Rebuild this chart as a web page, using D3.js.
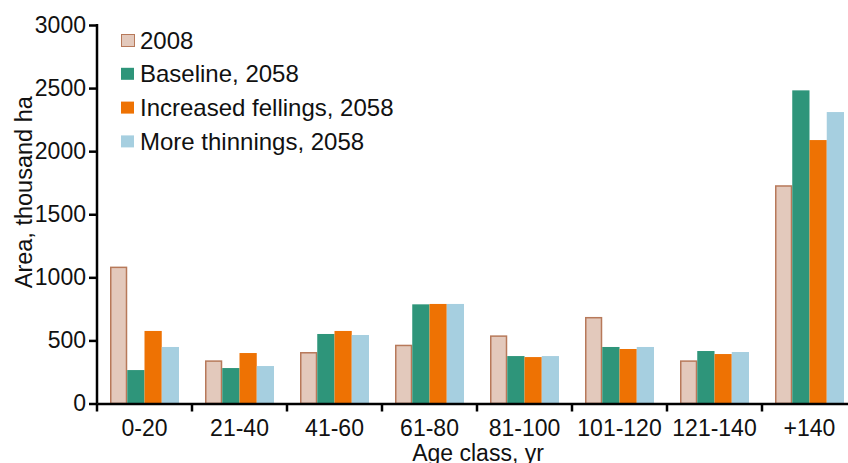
<!DOCTYPE html>
<html>
<head>
<meta charset="utf-8">
<script src="https://cdn.jsdelivr.net/npm/d3@7"></script>
<style>
  body { margin: 0; background: #fff; }
  svg { display: block; font-family: "Liberation Sans", Arial, sans-serif; }
</style>
</head>
<body>
<svg id="chart"></svg>
<script>
const width = 848, height = 463;
const margin = { top: 25, right: -9, bottom: 59.5, left: 97 };

// data
const ageClasses = ["0-20", "21-40", "41-60", "61-80", "81-100", "101-120", "121-140", "+140"];
const seriesNames = ["2008", "Baseline, 2058", "Increased fellings, 2058", "More thinnings, 2058"];
const values2008      = [1085, 342, 408, 466, 540, 686, 342, 1730];
const valuesBaseline  = [265, 281, 551, 786, 376, 448, 416, 2482];
const valuesFellings  = [575, 400, 575, 789, 368, 432, 392, 2088];
const valuesThinnings = [448, 297, 543, 789, 376, 448, 408, 2310];
const yTicks = [0, 500, 1000, 1500, 2000, 2500, 3000];

const fills = ["#e3c9bc", "#2e957a", "#ee7203", "#a6cfe0"];
const strokes = ["#b7795a", "none", "none", "none"];

const table = ageClasses.map((c, i) => ({
  cls: c,
  vals: [values2008[i], valuesBaseline[i], valuesFellings[i], valuesThinnings[i]]
}));

const svg = d3.select("#chart")
  .attr("width", width)
  .attr("height", height);

const x0 = d3.scaleBand()
  .domain(ageClasses)
  .range([margin.left, width - margin.right])
  .paddingInner(0);

const x1 = d3.scaleBand()
  .domain(d3.range(seriesNames.length))
  .range([13, x0.bandwidth() - 13]);

const y = d3.scaleLinear()
  .domain([0, 3000])
  .range([height - margin.bottom, margin.top]);

// bars
const groups = svg.append("g")
  .selectAll("g")
  .data(table)
  .join("g")
  .attr("transform", d => `translate(${x0(d.cls)},0)`);

groups.selectAll("rect")
  .data(d => d.vals.map((v, k) => ({ v, k })))
  .join("rect")
  .attr("x", d => x1(d.k) + (d.k === 0 ? 0.75 : 0))
  .attr("width", d => x1.bandwidth() - (d.k === 0 ? 1.5 : 0))
  .attr("y", d => y(d.v) + (d.k === 0 ? 0.75 : 0))
  .attr("height", d => y(0) - y(d.v) - (d.k === 0 ? 0.75 : 0))
  .attr("fill", d => fills[d.k])
  .attr("stroke", d => strokes[d.k])
  .attr("stroke-width", 1.5);

// y axis
const yAxis = svg.append("g")
  .attr("transform", `translate(${margin.left},0)`)
  .call(d3.axisLeft(y).tickValues(yTicks).tickSize(8).tickPadding(3).tickFormat(d3.format("d")));
yAxis.select(".domain").attr("stroke-width", 2.5).attr("d", `M0,${y(0)}V${y(3000) - 1}`);
yAxis.selectAll(".tick line").attr("stroke-width", 2.5);
yAxis.selectAll(".tick text").attr("font-size", 23).attr("fill", "#111");

// x axis
const xAxis = svg.append("g")
  .attr("transform", `translate(0,${y(0)})`)
  .call(d3.axisBottom(x0).tickSize(0).tickPadding(16));
xAxis.select(".domain").attr("stroke-width", 2.5);
xAxis.selectAll(".tick text").attr("font-size", 23).attr("fill", "#111");
xAxis.selectAll(".sep")
  .data(ageClasses)
  .join("line")
  .attr("x1", d => x0(d)).attr("x2", d => x0(d))
  .attr("y1", 0).attr("y2", 8)
  .attr("stroke", "#000").attr("stroke-width", 2.5);

// axis titles
svg.append("text")
  .attr("transform", `translate(32,${(y(0) + y(3000)) / 2 - 22}) rotate(-90)`)
  .attr("text-anchor", "middle")
  .attr("font-size", 23.5)
  .attr("fill", "#111")
  .text("Area, thousand ha");

svg.append("text")
  .attr("x", 478)
  .attr("y", 461)
  .attr("text-anchor", "middle")
  .attr("font-size", 23)
  .attr("fill", "#111")
  .text("Age class, yr");

// legend
const legend = svg.append("g")
  .attr("transform", "translate(121,34)")
  .selectAll("g")
  .data(seriesNames)
  .join("g")
  .attr("transform", (d, i) => `translate(0,${i * 33.8})`);

legend.append("rect")
  .attr("x", (d, i) => i === 0 ? 0.5 : 0)
  .attr("y", (d, i) => i === 0 ? 0.5 : 0)
  .attr("width", 13)
  .attr("height", 12)
  .attr("fill", (d, i) => fills[i])
  .attr("stroke", (d, i) => strokes[i])
  .attr("stroke-width", 1);

legend.append("text")
  .attr("x", 19)
  .attr("y", 14.5)
  .attr("font-size", 24)
  .attr("fill", "#111")
  .text(d => d);
</script>
</body>
</html>
